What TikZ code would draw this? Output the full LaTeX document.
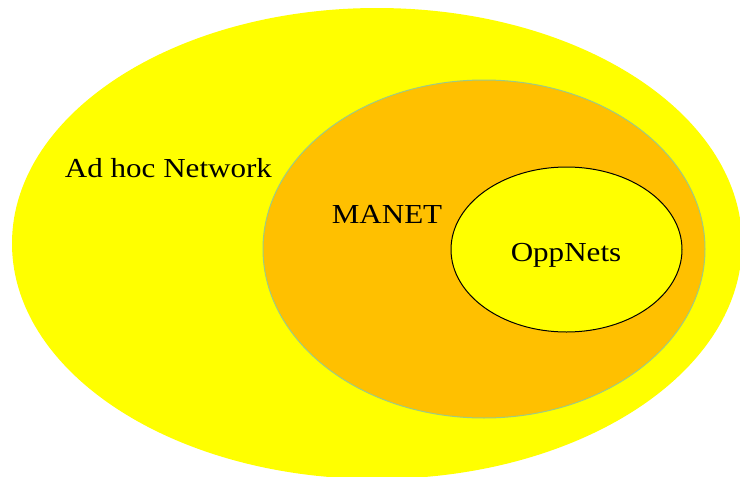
\documentclass[tikz,border=0pt]{standalone}
\usepackage{fontspec}
\setmainfont{Liberation Serif}[FakeStretch=1.13]
\definecolor{adhocyellow}{HTML}{FFFF00}
\definecolor{manetorange}{HTML}{FFC000}
\definecolor{manetedge}{HTML}{9CCB86}
\tikzset{
  setlabel/.style={anchor=base,inner sep=0pt,font=\fontsize{27.5}{32}\selectfont}
}
\begin{document}
\begin{tikzpicture}[x=1pt,y=-1pt]
      \useasboundingbox (0,0) rectangle (740,477);
      \fill[adhocyellow] (377,243.5) ellipse [x radius=365,y radius=235.5];
      \draw[fill=manetorange,draw=manetedge,line width=1pt] (484,249) ellipse [x radius=221,y radius=169];
      \draw[fill=adhocyellow,draw=black,line width=1pt] (566.5,249.5) ellipse [x radius=115.5,y radius=82.5];
      \node[setlabel] (adhoc) at (168.5,177) {Ad hoc Network};
      \node[setlabel] (manet) at (387,223) {MANET};
      \node[setlabel] (oppnets) at (566,261) {OppNets};
    \end{tikzpicture}
\end{document}
